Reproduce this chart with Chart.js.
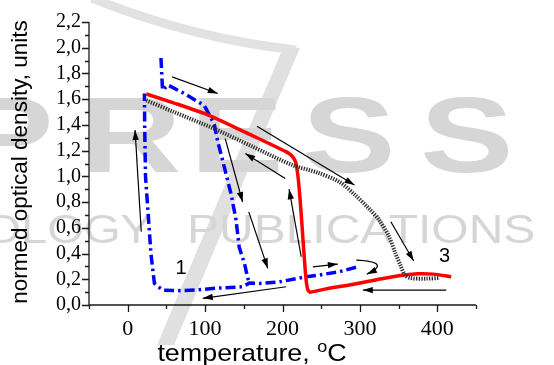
<!DOCTYPE html>
<html><head><meta charset="utf-8">
<style>html,body{margin:0;padding:0;background:#fff;}#wrap{width:554px;height:365px;}</style>
<script src="https://cdn.jsdelivr.net/npm/chart.js@4"></script>
</head><body><div id="wrap"><canvas id="c" width="554" height="365"></canvas></div>
<script>
// ---- data (temperature, °C  vs normed optical density) ----
const redT = [24, 60, 105, 160, 205, 212, 217, 220, 223, 226, 229, 231, 233, 236, 260, 290, 320, 350, 375, 395, 418];
const redD = [1.64, 1.57, 1.475, 1.32, 1.19, 1.16, 1.11, 1.00, 0.80, 0.55, 0.30, 0.17, 0.115, 0.10, 0.13, 0.16, 0.195, 0.228, 0.243, 0.24, 0.22];

const blackT = [24, 60, 112, 160, 213, 245, 274, 294, 310, 325, 337, 346, 353, 358, 365, 385, 403];
const blackD = [1.59, 1.50, 1.37, 1.235, 1.087, 1.03, 0.955, 0.854, 0.76, 0.66, 0.54, 0.40, 0.30, 0.235, 0.21, 0.205, 0.21];

const blueT = [295, 274, 248, 231, 196, 170, 157, 149, 114, 88, 63, 45, 34.5, 30, 27, 23, 22, 21.6, 30,
               43, 45, 52, 63, 73, 88, 99, 108, 112, 116, 127, 134, 140, 144, 151, 155, 157];
const blueD = [0.293, 0.26, 0.233, 0.22, 0.18, 0.168, 0.17, 0.142, 0.13, 0.116, 0.111, 0.116, 0.168, 0.40, 0.66, 1.00, 1.37, 1.644, null,
               1.92, 1.67, 1.71, 1.675, 1.645, 1.59, 1.55, 1.45, 1.40, 1.28, 1.02, 0.85, 0.66, 0.45, 0.32, 0.21, 0.18];

// annotation arrows (data coordinates): from -> to (head at "to")
const arrowFromT = [17.5, 57.4, 126, 156.4, 203.5, 224.2, 167, 340, 411.6, 204.8, 239.2];
const arrowFromD = [0.569, 1.773, 1.294, 0.724, 0.984, 0.375, 1.39, 0.647, 0.116, 0.142, 0.297];
const arrowToT   = [9.5, 116.4, 148.5, 181, 152, 208.5, 293, 369.5, 303.8, 97, 271.5];
const arrowToD   = [1.36, 1.644, 0.80, 0.285, 1.178, 0.90, 0.932, 0.342, 0.116, 0.052, 0.318];
// curled arrow: start, control, end
const curlT = [295.3, 342, 309];
const curlD = [0.349, 0.334, 0.24];

const curveLabels = ['1', '3'];
const labelT = [69, 409.4];
const labelD = [0.285, 0.375];

const yTickStep = 0.1, xTickStep = 50;
const yTitle = 'normed optical density, units';
const xTitleMain = 'temperature, ', xTitleSup = 'o', xTitleEnd = 'C';

function pts(xs, ys){ return xs.map((x,i)=>({x:x, y:ys[i]})); }

const watermark = {
  id:'watermark',
  beforeDraw(chart){
    const ctx = chart.ctx;
    ctx.save();
    // swoosh and slash of the publisher logo
    ctx.strokeStyle = '#e2e2e2'; ctx.lineWidth = 9; ctx.lineCap = 'butt';
    ctx.beginPath(); ctx.moveTo(92,-2); ctx.quadraticCurveTo(190,38,296,50); ctx.stroke();
    ctx.fillStyle = '#e0e0e0';
    ctx.beginPath(); ctx.moveTo(283,48); ctx.lineTo(300,48); ctx.lineTo(174,345); ctx.lineTo(157,345); ctx.closePath(); ctx.fill();
    ctx.fillStyle = '#d6d6d6';
    ctx.font = 'bold 108px "Liberation Sans", Arial, sans-serif';
    ctx.textBaseline = 'alphabetic';
    const letters = ['P','R','E','S','S'];
    const lx = [-40, 80, 190, 302, 420];
    letters.forEach((l,i)=>{ ctx.save(); ctx.translate(lx[i],172); ctx.scale(1.3,1); ctx.fillText(l,0,0); ctx.restore(); });
    ctx.font = '41px "Liberation Sans", Arial, sans-serif';
    ctx.save(); ctx.translate(152,243); ctx.scale(1.15,1); ctx.textAlign='right'; ctx.fillText('TECHNOLOGY',0,0); ctx.restore();
    ctx.save(); ctx.translate(187,243); ctx.scale(1.17,1); ctx.textAlign='left'; ctx.fillText('PUBLICATIONS',0,0); ctx.restore();
    ctx.restore();
  }
};

const deco = {
  id:'deco',
  afterDraw(chart){
    const ctx = chart.ctx, xs = chart.scales.x, ys = chart.scales.y, a = chart.chartArea;
    ctx.save();
    // axes and tick marks
    ctx.strokeStyle = '#1a1a1a'; ctx.lineWidth = 1.3;
    ctx.beginPath();
    ctx.moveTo(a.left, a.top); ctx.lineTo(a.left, a.bottom); ctx.lineTo(a.right, a.bottom);
    ys.ticks.forEach(t=>{
      const p = Math.round(ys.getPixelForValue(t.value))+0.5;
      const major = Math.round(t.value*10)%2===0;
      ctx.moveTo(a.left, p); ctx.lineTo(a.left-(major?7:4), p);
    });
    xs.ticks.forEach(t=>{
      const p = Math.round(xs.getPixelForValue(t.value))+0.5;
      const major = Math.round(t.value)%100===0;
      ctx.moveTo(p, a.bottom); ctx.lineTo(p, a.bottom+(major?7:4));
    });
    ctx.stroke();

    // arrows
    ctx.strokeStyle = '#000'; ctx.fillStyle = '#000'; ctx.lineWidth = 1.2;
    function head(x0,y0,x1,y1){
      const ang = Math.atan2(y1-y0, x1-x0), L = 10, W = 3.2;
      ctx.beginPath();
      ctx.moveTo(x1,y1);
      ctx.lineTo(x1 - L*Math.cos(ang) + W*Math.sin(ang), y1 - L*Math.sin(ang) - W*Math.cos(ang));
      ctx.lineTo(x1 - L*Math.cos(ang) - W*Math.sin(ang), y1 - L*Math.sin(ang) + W*Math.cos(ang));
      ctx.closePath(); ctx.fill();
    }
    for (let i=0;i<arrowFromT.length;i++){
      const x0 = xs.getPixelForValue(arrowFromT[i]), y0 = ys.getPixelForValue(arrowFromD[i]);
      const x1 = xs.getPixelForValue(arrowToT[i]), y1 = ys.getPixelForValue(arrowToD[i]);
      ctx.beginPath(); ctx.moveTo(x0,y0); ctx.lineTo(x1,y1); ctx.stroke();
      head(x0,y0,x1,y1);
    }
    const cx = curlT.map(v=>xs.getPixelForValue(v)), cy = curlD.map(v=>ys.getPixelForValue(v));
    ctx.beginPath(); ctx.moveTo(cx[0],cy[0]); ctx.quadraticCurveTo(cx[1],cy[1],cx[2],cy[2]); ctx.stroke();
    head(cx[1],cy[1],cx[2],cy[2]);

    // curve labels
    ctx.font = '20px "Liberation Sans", Arial, sans-serif';
    ctx.textAlign = 'center'; ctx.textBaseline = 'middle';
    curveLabels.forEach((s,i)=>ctx.fillText(s, xs.getPixelForValue(labelT[i]), ys.getPixelForValue(labelD[i])));

    // axis titles
    ctx.save();
    ctx.translate(21, 162); ctx.rotate(-Math.PI/2);
    ctx.font = '22.5px "Liberation Sans", Arial, sans-serif';
    ctx.textAlign = 'center'; ctx.textBaseline = 'middle';
    ctx.fillText(yTitle, 0, 0);
    ctx.restore();

    ctx.save();
    ctx.textAlign = 'left'; ctx.textBaseline = 'alphabetic';
    const fMain = '24px "Liberation Sans", Arial, sans-serif', fSup = '16px "Liberation Sans", Arial, sans-serif';
    ctx.font = fMain; const w1 = ctx.measureText(xTitleMain).width, w3 = ctx.measureText(xTitleEnd).width;
    ctx.font = fSup; const w2 = ctx.measureText(xTitleSup).width;
    const total = w1+w2+w3, sx = 1.12;
    ctx.translate(252 - total*sx/2, 361); ctx.scale(sx,1);
    let x = 0;
    ctx.font = fMain; ctx.fillText(xTitleMain, x, 0); x += w1;
    ctx.font = fSup; ctx.fillText(xTitleSup, x, -9); x += w2;
    ctx.font = fMain; ctx.fillText(xTitleEnd, x, 0);
    ctx.restore();
    ctx.restore();
  }
};

new Chart(document.getElementById('c'), {
  type: 'line',
  data: {
    datasets: [
      { data: pts(blackT, blackD), borderColor: '#2a2a2a', borderWidth: 4, borderDash: [1.3,1.3], pointRadius: 0, tension: 0.3 },
      { data: pts(redT, redD), borderColor: 'rgb(255,0,0)', borderWidth: 3.5, pointRadius: 0, tension: 0.2, borderJoinStyle: 'round' },
      { data: pts(blueT, blueD), borderColor: 'rgb(0,0,255)', borderWidth: 3.5, borderDash: [10,4,2.5,4], pointRadius: 0, tension: 0, spanGaps: false }
    ]
  },
  options: {
    responsive: false, animation: false, devicePixelRatio: 1,
    layout: { padding: { left: 0, right: 78, top: 22, bottom: 0 } },
    plugins: { legend: { display: false }, tooltip: { enabled: false } },
    scales: {
      x: {
        type: 'linear', min: -50, max: 450,
        grid: { display: false, drawTicks: false }, border: { display: false },
        ticks: { stepSize: xTickStep, padding: 11, color: '#000', maxRotation: 0, autoSkip: false,
          font: { family: '"Liberation Serif", "Times New Roman", serif', size: 22 },
          callback: v => (Math.round(v)%100===0 && v>=0) ? String(Math.round(v)) : '' },
        afterFit: s => { s.height = 60; }
      },
      y: {
        type: 'linear', min: 0, max: 2.2,
        grid: { display: false, drawTicks: false }, border: { display: false },
        ticks: { stepSize: yTickStep, padding: 8, color: '#000', autoSkip: false,
          font: { family: '"Liberation Serif", "Times New Roman", serif', size: 20 },
          callback: v => (Math.round(v*10)%2===0) ? v.toFixed(1).replace('.', ',') : '' },
        afterFit: s => { s.width = 89; }
      }
    }
  },
  plugins: [watermark, deco]
});
</script>
</body></html>
